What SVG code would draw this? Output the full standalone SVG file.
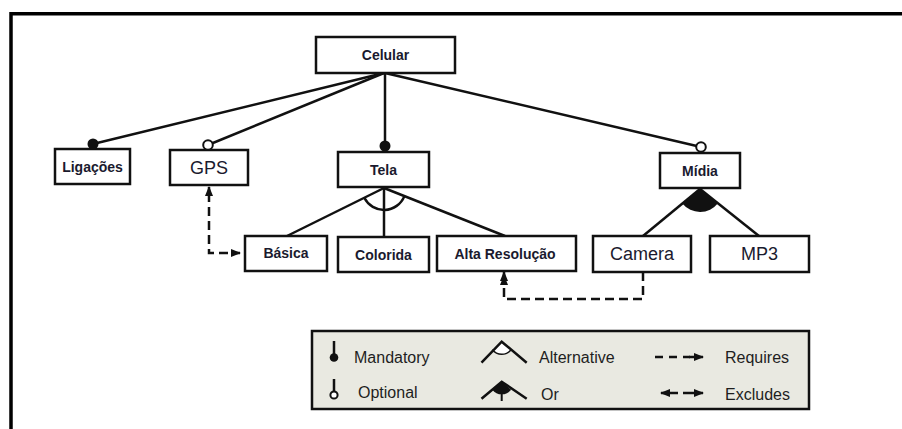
<svg xmlns="http://www.w3.org/2000/svg" width="902" height="429" viewBox="0 0 902 429">
  <style>
    .box { fill: #ffffff; stroke: #111111; stroke-width: 2.5; }
    .lbl { font-family: "Liberation Sans", Arial, sans-serif; font-size: 14px; font-weight: bold; fill: #1a1a2e; text-anchor: middle; }
    .lbl-big { font-family: "Liberation Sans", Arial, sans-serif; font-size: 18px; fill: #1a1a2e; text-anchor: middle; }
    .leg { font-family: "Liberation Sans", Arial, sans-serif; font-size: 16px; fill: #1e1e1e; }
    .edge { stroke: #111111; stroke-width: 2.5; fill: none; }
    .dash { stroke: #111111; stroke-width: 2.5; fill: none; stroke-dasharray: 9 5; }
    .dot { fill: #111111; }
    .ring { fill: #ffffff; stroke: #111111; stroke-width: 2; }
  </style>
  <defs>
    <marker id="arrow" viewBox="0 0 10 10" refX="9" refY="5" markerWidth="4" markerHeight="4" orient="auto">
      <path d="M0,1 L10,5 L0,9 Z" fill="#111111"/>
    </marker>
  </defs>

  <rect width="902" height="429" fill="#ffffff"/>

  <!-- outer frame -->
  <path d="M11,429 V13.7 H902" fill="none" stroke="#000000" stroke-width="3.5"/>

  <!-- connectors -->
  <g id="connectors">
    <line class="edge" x1="384" y1="73" x2="93" y2="144"/>
    <line class="edge" x1="384" y1="73" x2="208" y2="145"/>
    <line class="edge" x1="385" y1="73" x2="385" y2="146"/>
    <line class="edge" x1="385" y1="73" x2="701" y2="147"/>

    <!-- Tela: alternative group -->
    <path class="edge" d="M364.3,197.8 A22,22 0 0 0 404.4,196.1"/>
    <line class="edge" x1="384" y1="188" x2="287" y2="236"/>
    <line class="edge" x1="384" y1="188" x2="384" y2="237"/>
    <line class="edge" x1="384" y1="188" x2="505" y2="236"/>

    <!-- Midia: or group -->
    <path d="M700,189 L682.3,203.6 A23,23 0 0 0 718,203.3 Z" fill="#111111"/>
    <line class="edge" x1="700" y1="189" x2="643" y2="236"/>
    <line class="edge" x1="700" y1="189" x2="759" y2="236"/>

    <!-- requires links -->
    <path class="dash" d="M209,193 V253 H240" marker-end="url(#arrow)"/>
    <line class="edge" x1="209" y1="196" x2="209" y2="187" marker-end="url(#arrow)"/>
    <path class="dash" d="M643,272 V299 H504 V276" marker-end="url(#arrow)"/>
    <line class="edge" x1="504" y1="280" x2="504" y2="272" marker-end="url(#arrow)"/>
  </g>

  <g id="celular">
    <rect class="box" x="316" y="37" width="139" height="36"/>
    <text class="lbl" x="385.5" y="60">Celular</text>
  </g>

  <g id="ligacoes">
    <rect class="box" x="55" y="149" width="75" height="35"/>
    <circle class="dot" cx="93" cy="144" r="5.5"/>
    <text class="lbl" x="92.5" y="171.5">Ligações</text>
  </g>

  <g id="gps">
    <rect class="box" x="170" y="150" width="78" height="35"/>
    <circle class="ring" cx="208" cy="145" r="4.8"/>
    <text class="lbl-big" x="209" y="174">GPS</text>
  </g>

  <g id="tela">
    <rect class="box" x="338" y="152" width="91" height="35"/>
    <circle class="dot" cx="385" cy="146" r="5.5"/>
    <text class="lbl" x="383.5" y="174.5">Tela</text>
  </g>

  <g id="midia">
    <rect class="box" x="660" y="153" width="80" height="35"/>
    <circle class="ring" cx="701" cy="147" r="4.8"/>
    <text class="lbl" x="700" y="175.5" fill="#1a1a55">Mídia</text>
  </g>

  <g id="basica">
    <rect class="box" x="245" y="236" width="82" height="35"/>
    <text class="lbl" x="286" y="258">Básica</text>
  </g>

  <g id="colorida">
    <rect class="box" x="338" y="237" width="91" height="35"/>
    <text class="lbl" x="383.5" y="260">Colorida</text>
  </g>

  <g id="alta-resolucao">
    <rect class="box" x="437" y="236" width="139" height="35"/>
    <text class="lbl" x="505" y="258.5">Alta Resolução</text>
  </g>

  <g id="camera">
    <rect class="box" x="593" y="236" width="98" height="36"/>
    <text class="lbl-big" x="642" y="260">Camera</text>
  </g>

  <g id="mp3">
    <rect class="box" x="710" y="236" width="99" height="36"/>
    <text class="lbl-big" x="759.5" y="260">MP3</text>
  </g>

  <!-- legend -->
  <g id="legend">
    <rect x="312" y="331" width="497" height="78" fill="#e9e9e1" stroke="#111111" stroke-width="2.5"/>

    <line class="edge" x1="334" y1="341" x2="334" y2="354"/>
    <circle class="dot" cx="334" cy="357.5" r="4.3"/>
    <text class="leg" x="354" y="363">Mandatory</text>

    <line class="edge" x1="334" y1="379" x2="334" y2="391"/>
    <circle class="ring" cx="334" cy="395" r="3.6"/>
    <text class="leg" x="358" y="398">Optional</text>

    <path d="M492.3,349.8 A12,12 0 0 0 511.1,349.8 L501.7,341.7 Z" fill="#ffffff" stroke="none"/>
    <path d="M492.3,349.8 A12,12 0 0 0 511.1,349.8" fill="none" stroke="#111111" stroke-width="1.5"/>
    <path d="M481.5,362.7 L501.7,341.7 L526.7,362.7" class="edge" stroke-linejoin="miter"/>
    <text class="leg" x="539" y="363">Alternative</text>

    <path d="M501.7,381.7 L492.3,389.8 A12,12 0 0 0 511.1,389.8 Z" fill="#111111"/>
    <line x1="501.7" y1="392" x2="501.7" y2="401" stroke="#111111" stroke-width="2"/>
    <path d="M481.5,398.7 L501.7,381.7 L526.7,398.7" class="edge" stroke-linejoin="miter"/>
    <text class="leg" x="541" y="400">Or</text>

    <path d="M655,357 H690" class="edge" stroke-dasharray="8 6"/>
    <line class="edge" x1="689" y1="357" x2="703" y2="357" marker-end="url(#arrow)"/>
    <text class="leg" x="725" y="363">Requires</text>

    <line class="edge" x1="678" y1="393" x2="661" y2="393" marker-end="url(#arrow)"/>
    <line class="edge" x1="683" y1="393" x2="703" y2="393" marker-end="url(#arrow)"/>
    <text class="leg" x="725" y="400">Excludes</text>
  </g>
</svg>
